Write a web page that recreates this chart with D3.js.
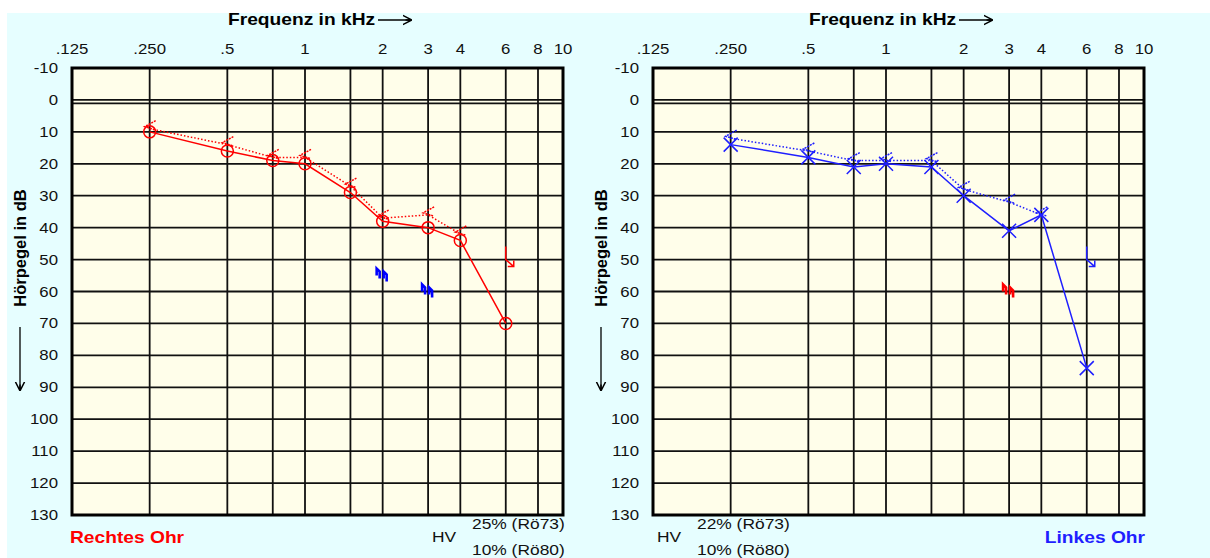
<!DOCTYPE html>
<html>
<head>
<meta charset="utf-8">
<script src="https://cdn.jsdelivr.net/npm/d3@7"></script>
<style>
  body { margin: 0; background: #fff; }
  svg { display: block; font-family: "Liberation Sans", Arial, sans-serif; }
</style>
</head>
<body>
<svg id="chart" width="1210" height="558"></svg>
<script>
// Frequency axis (kHz)
const freqTicks = [0.125, 0.25, 0.5, 1, 2, 3, 4, 6, 8, 10];
const freqTickLabels = [".125", ".250", ".5", "1", "2", "3", "4", "6", "8", "10"];
const gridFreqs = [0.25, 0.5, 0.75, 1, 1.5, 2, 3, 4, 6, 8];
const dbTicks = [-10, 0, 10, 20, 30, 40, 50, 60, 70, 80, 90, 100, 110, 120, 130];

// Measured frequencies
const airFreqs = [0.25, 0.5, 0.75, 1, 1.5, 2, 3, 4, 6];
const boneFreqs = [0.25, 0.5, 0.75, 1, 1.5, 2, 3, 4];

// Right ear (left panel)
const rightAir = [10, 16, 19, 20, 29, 38, 40, 44, 70];
const rightBone = [9, 14, 18, 18, 27, 37, 36, 42];
const rightMaskFreqs = [2, 3];
const rightMaskDb = [55, 60];
const rightNoRespFreqs = [6];
const rightNoRespDb = [50];

// Left ear (right panel)
const leftAir = [14, 18, 21, 20, 21, 30, 41, 36, 84];
const leftBone = [12, 16, 19, 19, 19, 28, 32, 36];
const leftMaskFreqs = [3];
const leftMaskDb = [60];
const leftNoRespFreqs = [6];
const leftNoRespDb = [50];

const RED = "#ff0000";
const BLUE = "#1f1fff";
// the original text is drawn a bit wider than Arial
const TEXT_SX = 1.2;

const svg = d3.select("#chart");

// background
svg.append("rect")
    .attr("x", 7).attr("y", 13)
    .attr("width", 1203).attr("height", 545)
    .attr("fill", "#e6feff");

const defs = svg.append("defs");
defs.append("marker")
    .attr("id", "arrowBlack")
    .attr("viewBox", "0 0 10 10")
    .attr("refX", 9).attr("refY", 5)
    .attr("markerWidth", 7).attr("markerHeight", 9)
    .attr("orient", "auto")
    .append("path")
    .attr("d", "M0,0 L10,5 L0,10 M3,5 L10,5")
    .attr("fill", "none")
    .attr("stroke", "#000")
    .attr("stroke-width", 1.6);

// wide text helper
function wideText(g, x, y, str, size, anchor) {
    return g.append("text")
        .attr("transform", `translate(${x},${y}) scale(${TEXT_SX},1)`)
        .attr("text-anchor", anchor || "start")
        .attr("font-size", size)
        .attr("fill", "#111")
        .text(str);
}

function drawPanel(opts) {
    const x = d3.scaleLog().domain([0.125, 10]).range([opts.left, opts.left + 491]);
    const y = d3.scaleLinear().domain([-10, 130]).range([68, 515]);
    const g = svg.append("g");

    // plot area
    g.append("rect")
        .attr("x", x(0.125)).attr("y", y(-10))
        .attr("width", x(10) - x(0.125)).attr("height", y(130) - y(-10))
        .attr("fill", "#fffeea");

    // grid
    g.selectAll(".vgrid").data(gridFreqs).enter().append("line")
        .attr("x1", d => x(d)).attr("x2", d => x(d))
        .attr("y1", y(-10)).attr("y2", y(130))
        .attr("stroke", "#111").attr("stroke-width", 1.8);
    g.selectAll(".hgrid").data(dbTicks.slice(1, -1)).enter().append("line")
        .attr("x1", x(0.125)).attr("x2", x(10))
        .attr("y1", d => y(d)).attr("y2", d => y(d))
        .attr("stroke", "#111").attr("stroke-width", 1.8);
    // double line at 0 dB
    g.append("line")
        .attr("x1", x(0.125)).attr("x2", x(10))
        .attr("y1", y(0) + 3.5).attr("y2", y(0) + 3.5)
        .attr("stroke", "#111").attr("stroke-width", 1.8);

    g.append("rect")
        .attr("x", x(0.125)).attr("y", y(-10))
        .attr("width", x(10) - x(0.125)).attr("height", y(130) - y(-10))
        .attr("fill", "none").attr("stroke", "#000").attr("stroke-width", 3);

    // tick labels
    freqTicks.forEach((d, i) => wideText(g, x(d), 54, freqTickLabels[i], 14, "middle"));
    dbTicks.forEach(d => wideText(g, x(0.125) - 14, y(d) + 5, d, 14, "end"));

    // titles
    wideText(g, opts.left + 156, 25, "Frequenz in kHz", 16)
        .attr("font-weight", "bold").attr("fill", "#000");
    g.append("line")
        .attr("x1", opts.left + 306).attr("x2", opts.left + 339)
        .attr("y1", 20).attr("y2", 20)
        .attr("stroke", "#000").attr("stroke-width", 1.3)
        .attr("marker-end", "url(#arrowBlack)");

    const ylx = opts.left - 52;
    g.append("text")
        .attr("transform", `translate(${ylx + 6},248) rotate(-90)`)
        .attr("text-anchor", "middle")
        .attr("font-size", 16.5).attr("font-weight", "bold")
        .text("Hörpegel in dB");
    g.append("line")
        .attr("x1", ylx).attr("x2", ylx)
        .attr("y1", 327).attr("y2", 390)
        .attr("stroke", "#000").attr("stroke-width", 1.3)
        .attr("marker-end", "url(#arrowBlack)");

    const c = opts.color;

    // bone conduction (dotted)
    const bonePts = opts.bone.map((d, i) => [x(boneFreqs[i]), y(d)]);
    g.append("path")
        .attr("d", d3.line()(bonePts))
        .attr("fill", "none").attr("stroke", c)
        .attr("stroke-width", 1.5).attr("stroke-dasharray", "1.5,2");
    g.selectAll(".bone").data(bonePts).enter().append("path")
        .attr("d", d => `M${d[0] + 6},${d[1] - 8} L${d[0] - 5},${d[1] - 2} L${d[0] + 5},${d[1] + 1}`)
        .attr("fill", "none").attr("stroke", c).attr("stroke-width", 1.5)
        .attr("stroke-dasharray", "2,1");

    // air conduction (solid)
    const airPts = opts.air.map((d, i) => [x(airFreqs[i]), y(d)]);
    g.append("path")
        .attr("d", d3.line()(airPts))
        .attr("fill", "none").attr("stroke", c).attr("stroke-width", 1.5);
    if (opts.symbol === "circle") {
        g.selectAll(".air").data(airPts).enter().append("circle")
            .attr("cx", d => d[0]).attr("cy", d => d[1]).attr("r", 6)
            .attr("fill", "none").attr("stroke", c).attr("stroke-width", 1.5);
    } else {
        g.selectAll(".air").data(airPts).enter().append("path")
            .attr("d", d => `M${d[0] - 7},${d[1] - 7} L${d[0] + 7},${d[1] + 7} M${d[0] - 7},${d[1] + 7} L${d[0] + 7},${d[1] - 7}`)
            .attr("fill", "none").attr("stroke", c).attr("stroke-width", 1.5);
    }

    // masking symbols: two small thick hooked strokes
    const nShape = (ax, ay) => `M${ax},${ay + 7} L${ax},${ay} L${ax + 3},${ay + 3} L${ax + 3},${ay + 10}`;
    g.selectAll(".mask").data(opts.maskFreqs).enter().append("path")
        .attr("d", (d, i) => {
            const px = x(d), py = y(opts.maskDb[i]);
            return nShape(px - 6, py - 7) + " " + nShape(px + 1, py - 4);
        })
        .attr("fill", "none").attr("stroke", opts.maskColor)
        .attr("stroke-width", 2.6).attr("stroke-linejoin", "miter");

    // no-response arrows
    g.selectAll(".noresp").data(opts.noRespFreqs).enter().append("path")
        .attr("d", (d, i) => {
            const px = x(d), py = y(opts.noRespDb[i]);
            return `M${px},${py - 13} L${px},${py} L${px + 8},${py + 7} M${px + 8},${py + 1} L${px + 8},${py + 7} L${px + 2},${py + 7}`;
        })
        .attr("fill", "none").attr("stroke", c).attr("stroke-width", 1.5);

    // footer
    wideText(g, opts.hvX, 542, "HV", 14.5);
    wideText(g, opts.hvX + 40, 529, opts.hv73, 14.5);
    wideText(g, opts.hvX + 40, 555, "10% (Rö80)", 14.5);
    wideText(g, opts.earX, 543, opts.ear, 16, opts.earAnchor)
        .attr("font-weight", "bold")
        .attr("fill", c);
}

drawPanel({
    left: 72, color: RED, symbol: "circle",
    air: rightAir, bone: rightBone,
    maskFreqs: rightMaskFreqs, maskDb: rightMaskDb, maskColor: "#0000ff",
    noRespFreqs: rightNoRespFreqs, noRespDb: rightNoRespDb,
    hvX: 432, hv73: "25% (Rö73)",
    ear: "Rechtes Ohr", earX: 70, earAnchor: "start"
});

drawPanel({
    left: 653, color: BLUE, symbol: "cross",
    air: leftAir, bone: leftBone,
    maskFreqs: leftMaskFreqs, maskDb: leftMaskDb, maskColor: "#ff0000",
    noRespFreqs: leftNoRespFreqs, noRespDb: leftNoRespDb,
    hvX: 657, hv73: "22% (Rö73)",
    ear: "Linkes Ohr", earX: 1145, earAnchor: "end"
});
</script>
</body>
</html>
